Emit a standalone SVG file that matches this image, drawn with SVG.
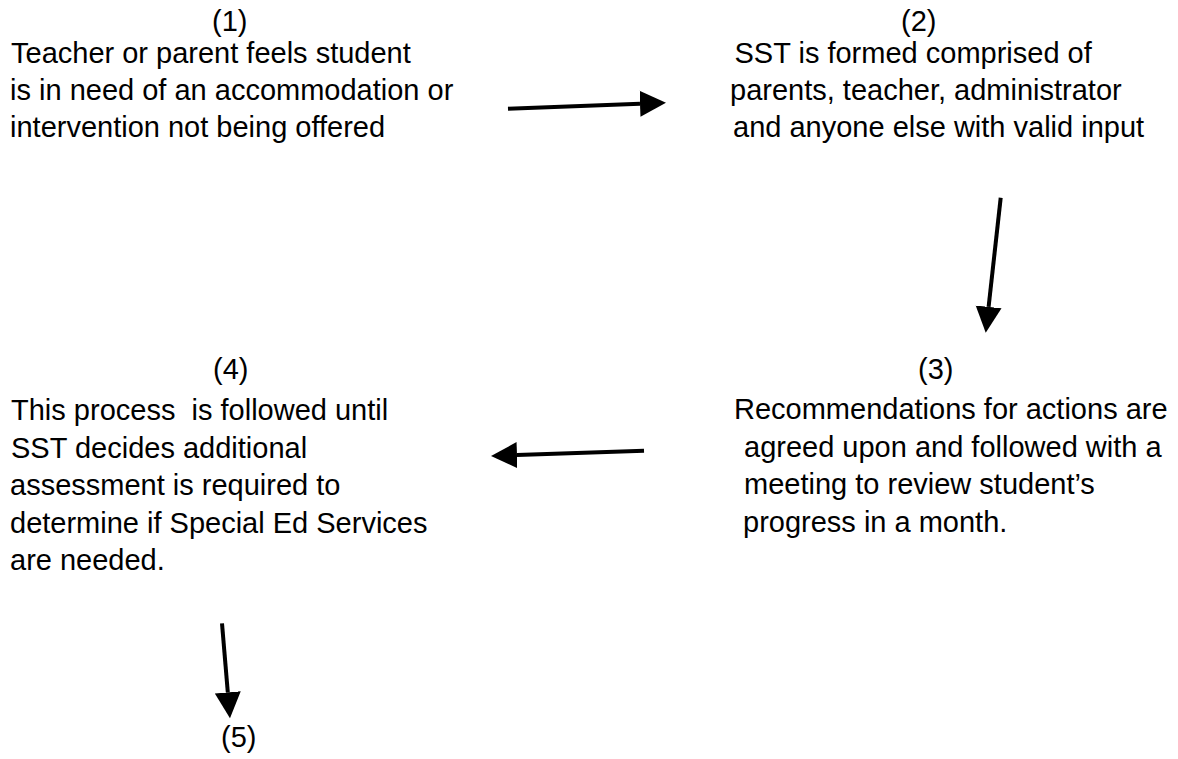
<svg xmlns="http://www.w3.org/2000/svg" width="1178" height="759" viewBox="0 0 1178 759">
<style>
text { font-family: "Liberation Sans", Arial, sans-serif; font-size: 29px; fill: #000; }
.conn { stroke: #000; stroke-width: 4; fill: none; marker-end: url(#ah); }
</style>
<defs>
<marker id="ah" markerUnits="userSpaceOnUse" markerWidth="27" markerHeight="27" refX="0" refY="13" orient="auto" viewBox="0 0 27 26">
<path d="M0,0 L26,13 L0,26 z" fill="#000"/>
</marker>
</defs>
<rect width="1178" height="759" fill="#fff"/>
<g id="node1">
<text x="212" y="31">(1)</text>
<text x="11" y="63">Teacher or parent feels student</text>
<text x="10" y="100">is in need of an accommodation or</text>
<text x="10" y="137">intervention not being offered</text>
</g>
<g id="node2">
<text x="901" y="31">(2)</text>
<text x="734.5" y="63">SST is formed comprised of</text>
<text x="730" y="100">parents, teacher, administrator</text>
<text x="733" y="137">and anyone else with valid input</text>
</g>
<g id="node3">
<text x="918" y="379">(3)</text>
<text x="734" y="419">Recommendations for actions are</text>
<text x="744" y="456.5">agreed upon and followed with a</text>
<text x="744" y="494">meeting to review student’s</text>
<text x="743" y="531.5">progress in a month.</text>
</g>
<g id="node4">
<text x="213" y="379">(4)</text>
<text x="11" y="420" xml:space="preserve">This process  is followed until</text>
<text x="11" y="457.5">SST decides additional</text>
<text x="10" y="495">assessment is required to</text>
<text x="10" y="532.5">determine if Special Ed Services</text>
<text x="10" y="570">are needed.</text>
</g>
<g id="node5">
<text x="221" y="747">(5)</text>
</g>
<g id="connectors">
<line class="conn" x1="508" y1="108.7" x2="640" y2="103.7"/>
<line class="conn" x1="1000.7" y1="197.7" x2="988.6" y2="306.9"/>
<line class="conn" x1="644" y1="450.7" x2="517" y2="455.1"/>
<line class="conn" x1="222" y1="623.3" x2="227.8" y2="692.4"/>
</g>
</svg>
